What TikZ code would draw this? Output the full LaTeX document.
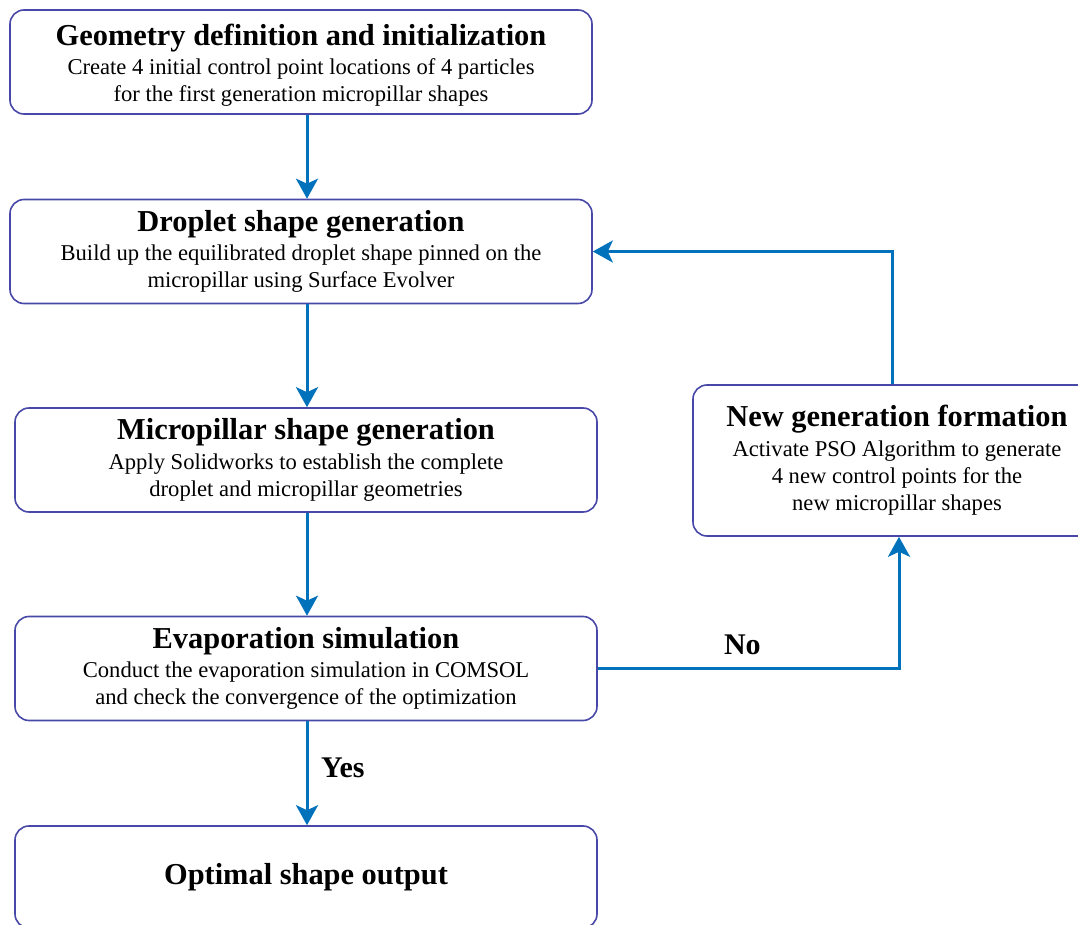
\documentclass[tikz,border=0pt]{standalone}
\usepackage{fontspec}
\setmainfont{Liberation Serif}
\usetikzlibrary{arrows.meta}
\definecolor{framec}{RGB}{72,72,168}
\definecolor{linkc}{RGB}{0,114,188}
\newcommand{\ttl}[1]{{\fontsize{15.2}{17}\selectfont\bfseries #1}}
\tikzset{
	stage/.style={draw=framec, line width=0.8pt, rounded corners=7pt, align=center, minimum width=291pt, minimum height=52pt, inner sep=0pt, font=\fontsize{11.3}{13.6}\selectfont},
	link/.style={draw=linkc, line width=1.5pt, -{Stealth[length=10pt,width=11pt,inset=2.5pt]}},
	tag/.style={font=\fontsize{15}{17}\selectfont\bfseries}
}
\begin{document}
\begin{tikzpicture}[x=0.5pt,y=-0.5pt]
	\useasboundingbox (0,0) rectangle (1078,925);
	\coordinate (spine) at (307,0);
	\node[stage] (geo) at (301,62) {\ttl{Geometry definition and initialization}\rule{0pt}{14pt}\\[1pt] Create 4 initial control point locations of 4 particles\\ for the first generation micropillar shapes};
	\node[stage] (drop) at (301,251.5) {\ttl{Droplet shape generation}\\[1pt] Build up the equilibrated droplet shape pinned on the\\ micropillar using Surface Evolver};
	\node[stage] (micro) at (306,460) {\ttl{Micropillar shape generation}\\[1pt] Apply Solidworks to establish the complete\\ droplet and micropillar geometries};
	\node[stage] (evap) at (306,668.5) {\ttl{Evaporation simulation}\\[1pt] Conduct the evaporation simulation in COMSOL\\ and check the convergence of the optimization};
	\node[stage, minimum height=51pt] (opt) at (306,877) {\ttl{Optimal shape output}};
	\node[stage, minimum width=204pt, minimum height=75.5pt] (newgen) at (897,460.5) {\ttl{New generation formation}\\[1pt] Activate PSO Algorithm to generate\\ 4 new control points for the\\ new micropillar shapes};
	\draw[link] (geo.south -| spine) -- (drop.north -| spine);
	\draw[link] (drop.south -| spine) -- (micro.north -| spine);
	\draw[link] (micro.south -| spine) -- (evap.north -| spine);
	\draw[link] (evap.south -| spine) -- node[tag, right=3pt, pos=0.45] (yes) {Yes} (opt.north -| spine);
	\draw[link] (evap.east) -| node[tag, above=3pt, pos=0.24] (no) {No} ([xshift=1pt]newgen.south);
	\draw[link] ([xshift=-2.5pt]newgen.north) |- (drop.east);
\end{tikzpicture}
\end{document}
